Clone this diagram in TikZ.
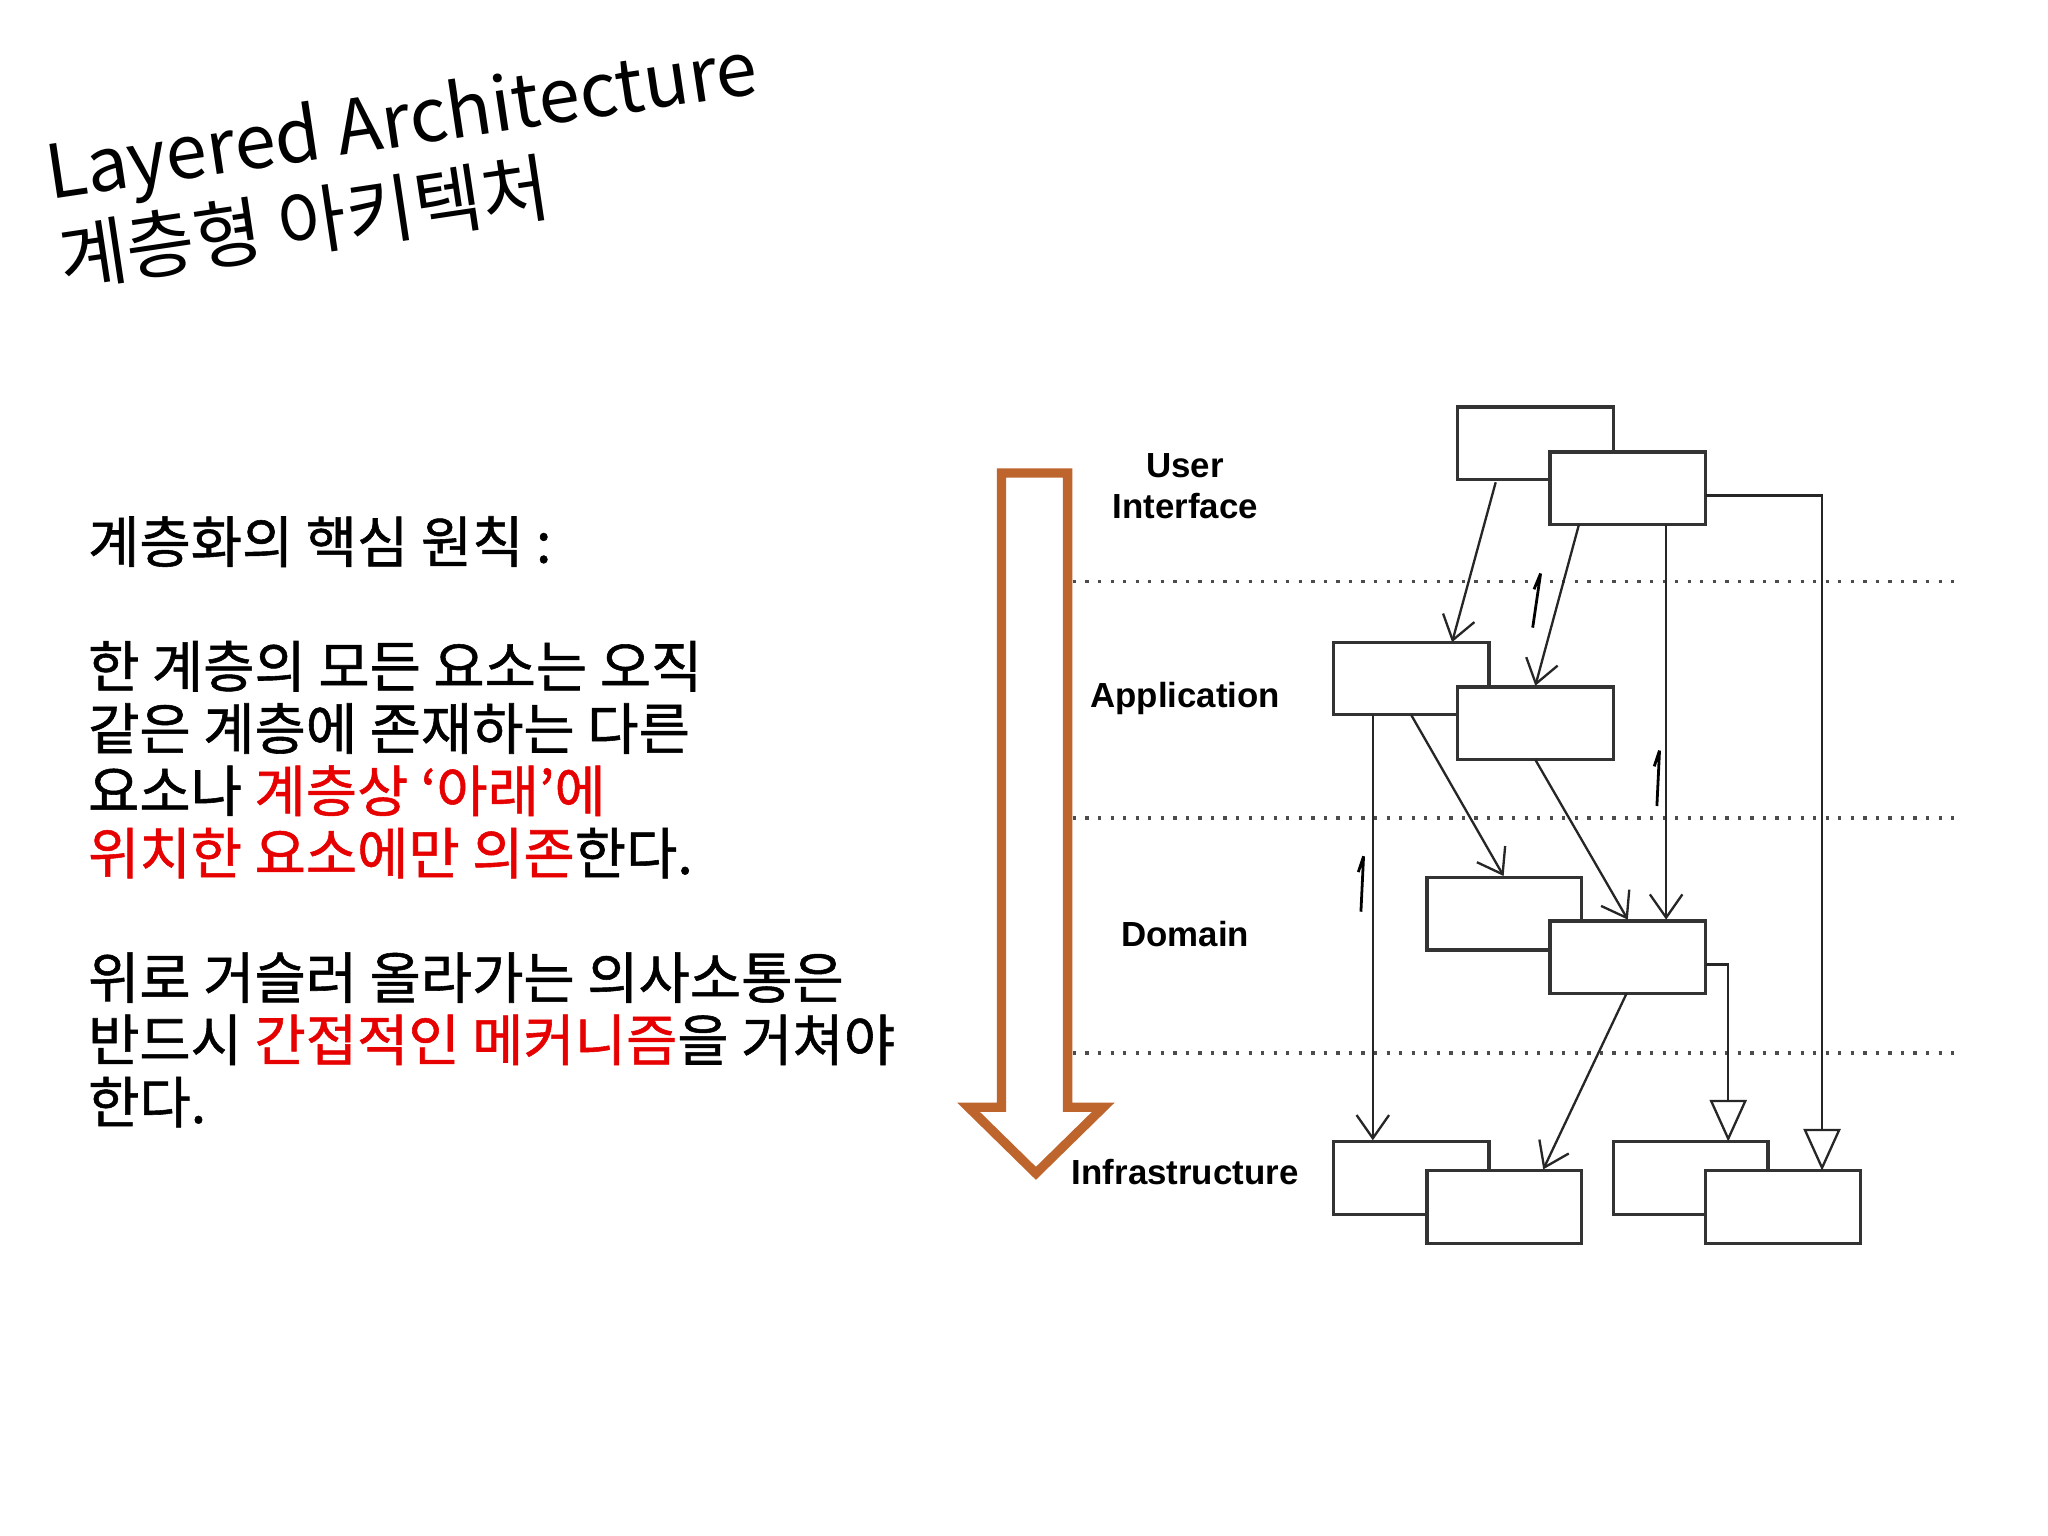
\documentclass[tikz,border=0pt]{standalone}
\usepackage{fontspec}
\setmainfont{Noto Sans CJK KR}
\newfontfamily\bodyfont{Noto Sans CJK KR}[FakeBold=1.0]
\newfontfamily\lblfont{Liberation Sans}
\usetikzlibrary{arrows.meta}
\definecolor{redtxt}{RGB}{230,0,0}
\definecolor{orng}{RGB}{190,100,45}
\tikzset{
 bx/.style={draw=black!80,fill=white,line width=0.7pt},
 dep/.style={draw=black!85,line width=0.5pt,-{Straight Barb[length=5pt,width=7pt]}},
 gen/.style={draw=black!85,line width=0.5pt,-{Triangle[open,length=9pt,width=8pt]}},
 lay/.style={font=\lblfont\bfseries\fontsize{7.5pt}{9pt}\selectfont,align=center},
 sep/.style={draw=black!70,dotted,line width=0.7pt}
}
\begin{document}
\begin{tikzpicture}[x=0.01cm,y=-0.01cm]
\useasboundingbox (0,0) rectangle (1550,1162);
\node[anchor=south west,rotate=8.5,align=left,inner sep=0pt,font=\fontsize{16pt}{19pt}\selectfont] (title) at (48,222) {Layered Architecture\\계층형 아키텍처};
\node[anchor=north west,align=left,inner sep=0pt,font=\bodyfont\fontsize{12pt}{13.4pt}\selectfont] (body) at (66,390) {%
계층화의 핵심 원칙 :\\[13.4pt]
한 계층의 모든 요소는 오직\\
같은 계층에 존재하는 다른\\
요소나 \textcolor{redtxt}{계층상 ‘아래’에}\\
\textcolor{redtxt}{위치한 요소에만 의존}한다.\\[13.4pt]
위로 거슬러 올라가는 의사소통은\\
반드시 \textcolor{redtxt}{간접적인 메커니즘}을 거쳐야\\
한다.};
% big arrow
\draw[orng,line width=2pt,line join=miter] (758,358) -- (808,358) -- (808,838) -- (835,838) -- (784,888) -- (733,838) -- (758,838) -- cycle;
% separators
\draw[sep] (812,440) -- (1480,440);
\draw[sep] (812,619) -- (1480,619);
\draw[sep] (812,797) -- (1480,797);
% labels
\node[lay] (lui) at (897,368) {User\\Interface};
\node[lay] (lap) at (897,529) {Application};
\node[lay] (ldo) at (897,707) {Domain};
\node[lay] (lin) at (897,887) {Infrastructure};
% boxes
\draw[bx] (1103,308) rectangle (1221,363);
\draw[bx] (1173,342) rectangle (1291,397);
\draw[bx] (1009,486) rectangle (1127,541);
\draw[bx] (1103,520) rectangle (1221,575);
\draw[bx] (1080,664) rectangle (1197,719);
\draw[bx] (1173,697) rectangle (1291,752);
\draw[bx] (1009,864) rectangle (1127,919);
\draw[bx] (1080,886) rectangle (1197,941);
\draw[bx] (1221,864) rectangle (1338,919);
\draw[bx] (1291,886) rectangle (1408,941);
% connectors
\coordinate (a1) at (1132,365); \coordinate (b1) at (1099,486);
\draw[dep] (a1) -- (b1);
\coordinate (a2) at (1195,397); \coordinate (b2) at (1162,519);
\draw[dep] (a2) -- (b2);
\coordinate (a3) at (1261,397); \coordinate (b3) at (1261,696);
\draw[dep] (a3) -- (b3);
\coordinate (a4) at (1291,375); \coordinate (b4) at (1379,886);
\draw[gen] (a4) -| (b4);
\coordinate (a5) at (1068,541); \coordinate (b5) at (1138,663);
\draw[dep] (a5) -- (b5);
\coordinate (a6) at (1162,575); \coordinate (b6) at (1232,696);
\draw[dep] (a6) -- (b6);
\coordinate (a7) at (1039,541); \coordinate (b7) at (1039,863);
\draw[dep] (a7) -- (b7);
\coordinate (a8) at (1231,752); \coordinate (b8) at (1168,885);
\draw[dep] (a8) -- (b8);
\coordinate (a9) at (1291,730); \coordinate (b9) at (1308,864);
\draw[gen] (a9) -| (b9);
% small multiplicity marks
\draw[line width=0.6pt] (1166,434) -- (1160,475) (1166,434) -- (1161,446);
\draw[line width=0.6pt] (1256,568) -- (1254,610) (1256,568) -- (1252,580);
\draw[line width=0.6pt] (1032,648) -- (1030,690) (1032,648) -- (1028,660);
\end{tikzpicture}
\end{document}
